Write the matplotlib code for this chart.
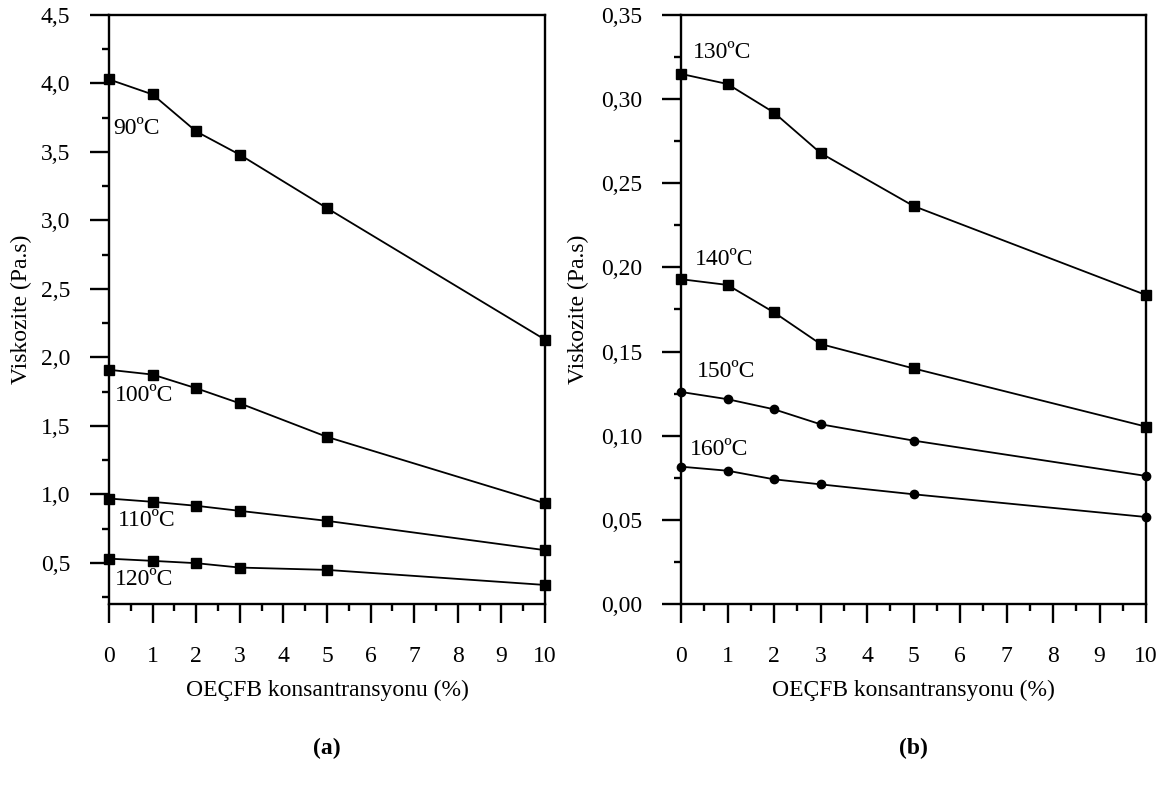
import matplotlib
matplotlib.use("Agg")
import matplotlib.pyplot as plt
from matplotlib.ticker import MultipleLocator, FuncFormatter

plt.rcParams['font.family'] = ['Liberation Serif', 'DejaVu Serif']

# ---- data ----
conc = [0, 1, 2, 3, 5, 10]

# panel (a)
visc_90 = [4.03, 3.92, 3.65, 3.48, 3.09, 2.13]
visc_100 = [1.91, 1.875, 1.775, 1.665, 1.42, 0.935]
visc_110 = [0.97, 0.946, 0.917, 0.88, 0.807, 0.593]
visc_120 = [0.531, 0.515, 0.498, 0.466, 0.449, 0.339]

# panel (b)
visc_130 = [0.315, 0.309, 0.292, 0.268, 0.2365, 0.1836]
visc_140 = [0.193, 0.1896, 0.1733, 0.1545, 0.140, 0.1054]
visc_150 = [0.126, 0.1217, 0.1157, 0.1068, 0.0971, 0.0761]
visc_160 = [0.0816, 0.0792, 0.0741, 0.0711, 0.0652, 0.0517]

labels_a = ["90ºC", "100ºC", "110ºC", "120ºC"]
labels_b = ["130ºC", "140ºC", "150ºC", "160ºC"]

xlabel = "OEÇFB konsantransyonu (%)"
ylabel = "Viskozite (Pa.s)"

FS = 17

fig = plt.figure(figsize=(11.66, 7.92), dpi=100)
W, H = 1166, 792
axA = fig.add_axes([109 / W, (H - 604) / H, 436 / W, 589 / H])
axB = fig.add_axes([681 / W, (H - 604) / H, 465 / W, 589 / H])


def style(ax, ymin, ymax, major, minor, fmt, ylab_x):
    ax.set_xlim(0, 10)
    ax.set_ylim(ymin, ymax)
    ax.xaxis.set_major_locator(MultipleLocator(1))
    ax.xaxis.set_minor_locator(MultipleLocator(0.5))
    ax.yaxis.set_major_locator(MultipleLocator(major))
    ax.yaxis.set_minor_locator(MultipleLocator(minor))
    ax.yaxis.set_major_formatter(FuncFormatter(lambda v, p: fmt.format(v).replace('.', ',')))
    ax.xaxis.set_major_formatter(FuncFormatter(lambda v, p: f"{v:.0f}"))
    for s in ax.spines.values():
        s.set_linewidth(1.7)
    ax.tick_params(which='major', direction='out', length=14, width=1.7, labelsize=FS)
    ax.tick_params(which='minor', direction='out', length=5, width=1.7)
    ax.tick_params(axis='x', which='major', pad=16)
    ax.tick_params(axis='y', which='major', pad=14)
    ax.set_xlabel(xlabel, fontsize=FS)
    ax.xaxis.set_label_coords(0.5, -0.146)
    ax.xaxis.label.set_verticalalignment('center')
    ax.set_ylabel(ylabel, fontsize=FS)
    ax.yaxis.set_label_coords(ylab_x, 0.5)
    ax.yaxis.label.set_verticalalignment('center')


style(axA, 0.2, 4.5, 0.5, 0.25, "{:.1f}", -0.2)
style(axB, 0.0, 0.35, 0.05, 0.025, "{:.2f}", -0.221)

line_kw = dict(color='black', linewidth=1.3, clip_on=False, zorder=3)
for vals in [visc_90, visc_100, visc_110, visc_120]:
    axA.plot(conc, vals, marker='s', markersize=6.5, **line_kw)
for vals in [visc_130, visc_140]:
    axB.plot(conc, vals, marker='s', markersize=6.5, **line_kw)
for vals in [visc_150, visc_160]:
    axB.plot(conc, vals, marker='o', markersize=6, **line_kw)

pos_a = [(0.10, 3.67), (0.14, 1.72), (0.20, 0.807), (0.14, 0.376)]
for (x, y), t in zip(pos_a, labels_a):
    axA.text(x, y, t, fontsize=FS, ha='left', va='center')
pos_b = [(0.26, 0.328), (0.30, 0.205), (0.34, 0.138), (0.20, 0.092)]
for (x, y), t in zip(pos_b, labels_b):
    axB.text(x, y, t, fontsize=FS, ha='left', va='center')

axA.text(0.5, -0.2445, "(a)", transform=axA.transAxes, fontsize=FS,
         fontweight='bold', ha='center', va='center')
axB.text(0.5, -0.2445, "(b)", transform=axB.transAxes, fontsize=FS,
         fontweight='bold', ha='center', va='center')

fig.savefig("out.png", dpi=100)
